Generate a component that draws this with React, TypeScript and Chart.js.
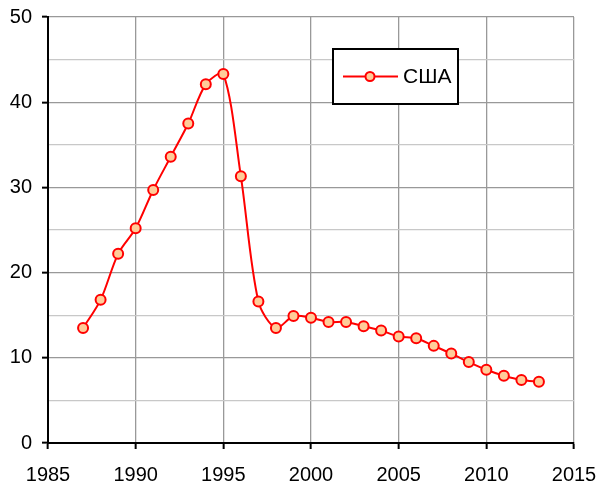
import React, { useEffect, useRef } from "react";
import { Chart, registerables } from "chart.js";

Chart.register(...registerables);

const years = [1987, 1988, 1989, 1990, 1991, 1992, 1993, 1994, 1995, 1996, 1997, 1998, 1999, 2000, 2001, 2002, 2003, 2004, 2005, 2006, 2007, 2008, 2009, 2010, 2011, 2012, 2013];
const usaValues = [13.5, 16.8, 22.2, 25.2, 29.7, 33.6, 37.5, 42.1, 43.3, 31.3, 16.6, 13.5, 14.9, 14.7, 14.2, 14.2, 13.7, 13.2, 12.5, 12.3, 11.4, 10.5, 9.5, 8.6, 7.9, 7.4, 7.2];
const seriesLabel = "США";
const xMin = 1985;
const xMax = 2015;
const yMin = 0;
const yMax = 50;

const FONT = "'Liberation Sans', Arial, sans-serif";
const LINE_COLOR = "#FF0000";
const FILL_COLOR = "#FFCC99";

const legendPlugin = {
  id: "boxLegend",
  afterDraw(chart: any) {
    const ctx = chart.ctx;
    ctx.save();
    const x = 333, y = 49, w = 125, h = 55;
    ctx.fillStyle = "#fff";
    ctx.fillRect(x, y, w, h);
    ctx.strokeStyle = "#000";
    ctx.lineWidth = 2;
    ctx.strokeRect(x, y, w, h);
    const cy = y + h / 2;
    ctx.strokeStyle = LINE_COLOR;
    ctx.lineWidth = 2;
    ctx.beginPath();
    ctx.moveTo(343, cy);
    ctx.lineTo(398, cy);
    ctx.stroke();
    ctx.beginPath();
    ctx.arc(370, cy, 4.5, 0, Math.PI * 2);
    ctx.fillStyle = FILL_COLOR;
    ctx.fill();
    ctx.stroke();
    ctx.fillStyle = "#000";
    ctx.font = `21px ${FONT}`;
    ctx.textBaseline = "middle";
    ctx.textAlign = "left";
    ctx.fillText(seriesLabel, 403, cy + 1);
    ctx.restore();
  },
};

export default function App() {
  const ref = useRef<HTMLCanvasElement>(null);
  useEffect(() => {
    document.body.style.margin = "0";
    const canvas = ref.current!;
    const chart = new Chart(canvas, {
      type: "line",
      data: {
        datasets: [
          {
            label: seriesLabel,
            data: years.map((yr, i) => ({ x: yr, y: usaValues[i] })),
            borderColor: LINE_COLOR,
            backgroundColor: FILL_COLOR,
            borderWidth: 2,
            pointRadius: 5,
            pointBorderWidth: 2,
            pointBackgroundColor: FILL_COLOR,
            pointBorderColor: LINE_COLOR,
            tension: 0.3,
          },
        ],
      },
      options: {
        responsive: false,
        animation: false,
        layout: { padding: { top: 17, right: 26, left: 0, bottom: 0 } },
        plugins: { legend: { display: false }, tooltip: { enabled: false } },
        scales: {
          x: {
            type: "linear",
            min: xMin,
            max: xMax,
            afterFit: (s: any) => {
              s.height = 43;
              s.paddingLeft = 0;
              s.paddingRight = 0;
            },
            ticks: {
              stepSize: 5,
              autoSkip: false,
              color: "#000",
              font: { family: FONT, size: 20 },
              padding: 14,
              maxRotation: 0,
              callback: (v: any) => String(v),
            },
            grid: {
              color: "#999999",
              lineWidth: 1.3,
              tickColor: "#000",
              tickLength: 6,
              tickWidth: 2,
            },
            border: { color: "#000", width: 2 },
          },
          y: {
            min: yMin,
            max: yMax,
            afterFit: (s: any) => {
              s.width = 48;
              s.paddingTop = 0;
              s.paddingBottom = 0;
            },
            ticks: {
              stepSize: 5,
              autoSkip: false,
              color: "#000",
              font: { family: FONT, size: 20 },
              padding: 10,
              callback: (v: any) => (Number(v) % 10 === 0 ? String(v) : ""),
            },
            grid: {
              color: (c: any) => (c.tick && c.tick.value % 10 === 0 ? "#999999" : "#C8C8C8"),
              lineWidth: 1.3,
              tickColor: (c: any) => (c.tick && c.tick.value % 10 === 0 ? "#000" : "rgba(0,0,0,0)"),
              tickLength: 6,
              tickWidth: 2,
            },
            border: { color: "#000", width: 2 },
          },
        },
      },
      plugins: [legendPlugin],
    });
    return () => chart.destroy();
  }, []);
  return <canvas ref={ref} width={600} height={486} style={{ display: "block", width: 600, height: 486 }} />;
}
